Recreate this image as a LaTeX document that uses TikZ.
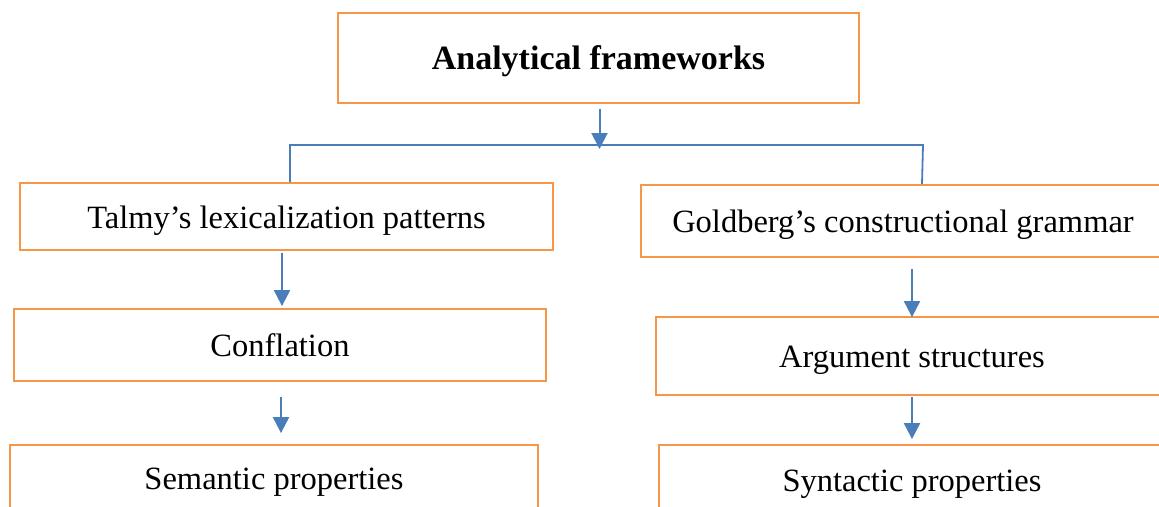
\documentclass[tikz,border=0pt]{standalone}
\usepackage{fontspec}
\setmainfont{Liberation Serif}
\usetikzlibrary{arrows.meta}
\definecolor{boxorange}{HTML}{F79646}
\definecolor{arrowblue}{HTML}{4A7EBB}
\tikzset{
  box/.style={draw=boxorange, line width=1.8pt, rectangle, inner sep=0pt,
    font=\fontsize{32.5}{38}\selectfont,
    text height=26pt, text depth=3pt},
  arr/.style={draw=arrowblue, line width=2pt, -{Triangle[width=16pt,length=16pt]}},
  link/.style={draw=arrowblue, line width=1.8pt}
}
\begin{document}
\begin{tikzpicture}[x=1pt,y=-1pt]
\useasboundingbox (0,0) rectangle (1159,506);
\clip (0,0) rectangle (1159,506);
\fill[white] (0,0) rectangle (1159,506);

% boxes
\node[box, minimum width=521pt, minimum height=90pt,
  font=\fontsize{34}{40}\selectfont\bfseries] (top) at (598.5,58) {Analytical frameworks};
\node[box, minimum width=533pt, minimum height=67pt] (talmy) at (286.5,216.5) {Talmy’s lexicalization patterns};
\node[box, minimum width=524pt, minimum height=72pt] (gold) at (903,221) {Goldberg’s constructional grammar};
\node[box, minimum width=532pt, minimum height=72pt] (confl) at (280,345) {Conflation};
\node[box, minimum width=512pt, minimum height=78pt] (arg) at (912,356) {Argument structures};
\node[box, minimum width=528pt, minimum height=66pt] (sem) at (274,478) {Semantic properties};
\node[box, minimum width=506pt, minimum height=70pt] (syn) at (912,480) {Syntactic properties};

% bracket
\coordinate (bl) at (290,145);
\coordinate (br) at (923,145);
\coordinate (tipTop) at (599.5,149);
\draw[link] (talmy.north -| bl) -- (bl) -- (br) -- ([xshift=-1pt]gold.north -| br);
\draw[arr] ([yshift=-5pt]top.south -| tipTop) -- (tipTop);

% arrows
\coordinate (a1) at (282,253);
\coordinate (a2) at (281,397);
\coordinate (b1) at (912,269);
\coordinate (b2) at (912,397);
\draw[arr] (a1) -- ([yshift=2pt]confl.north -| a1);
\draw[arr] (a2) -- ([yshift=11pt]sem.north -| a2);
\draw[arr] (b1) -- ([yshift=-1pt]arg.north -| b1);
\draw[arr] (b2) -- ([yshift=5pt]syn.north -| b2);
\end{tikzpicture}
\end{document}
